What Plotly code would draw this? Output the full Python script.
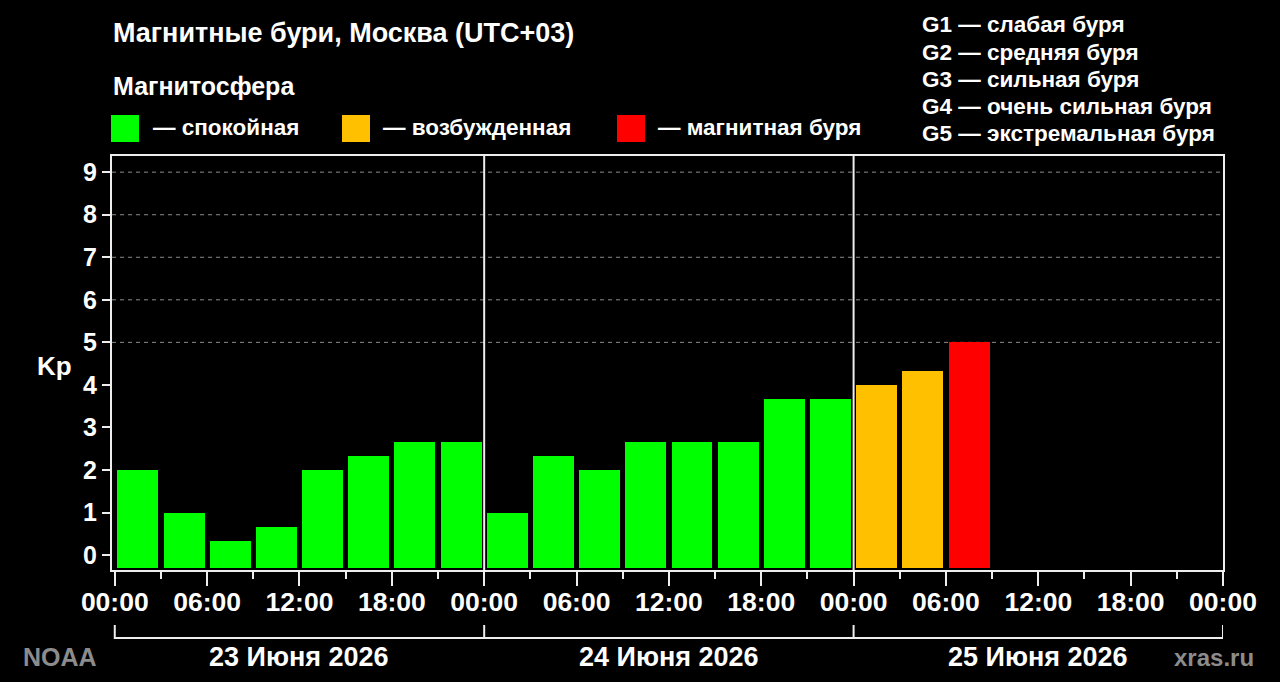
import plotly.graph_objects as go
import pandas as pd

# Kp index, 3-hour bins starting 23 June 2026 00:00 (UTC+03)
kp_values = [2, 1, 0.33, 0.67, 2, 2.33, 2.67, 2.67,
             1, 2.33, 2, 2.67, 2.67, 2.67, 3.67, 3.67,
             4, 4.33, 5]
day_labels = ["23 Июня 2026", "24 Июня 2026", "25 Июня 2026"]
day_starts = ["2026-06-23", "2026-06-24", "2026-06-25", "2026-06-26"]
g_levels = [5, 6, 7, 8, 9]
g_labels = ["G1", "G2", "G3", "G4", "G5"]
legend_names = ["— спокойная", "— возбужденная", "— магнитная буря"]
legend_colors = ["#00ff00", "#ffc000", "#ff0000"]
g_descriptions = ["G1 — слабая буря", "G2 — средняя буря", "G3 — сильная буря",
                  "G4 — очень сильная буря", "G5 — экстремальная буря"]

FONT = "Liberation Sans, Arial, sans-serif"
W, H = 1280, 682
L, R, T, B = 112, 57, 156, 112
PW, PH = W - L - R, H - T - B


def px(x):
    # page pixel -> paper x
    return (x - L) / PW


def py(y):
    # page pixel -> paper y
    return (H - B - y) / PH


yrange = [-0.35, 9.38]
bar_base = -0.31  # bars start just above the bottom axis line

times = pd.date_range("2026-06-23 01:30", periods=len(kp_values), freq="3h")
colors = [legend_colors[0] if v < 4 else legend_colors[1] if v < 5 else legend_colors[2]
          for v in kp_values]

fig = go.Figure()
fig.add_trace(go.Bar(
    x=times, y=[v - bar_base for v in kp_values], base=bar_base,
    customdata=kp_values, hovertemplate="Kp %{customdata}<extra></extra>",
    width=2.66 * 3600 * 1000,
    marker=dict(color=colors, line=dict(width=0)),
    showlegend=False,
))

shapes = []
# dashed grid for storm levels only
for lvl in g_levels:
    shapes.append(dict(type="line", xref="paper", yref="y", x0=0, x1=1, y0=lvl, y1=lvl,
                       line=dict(color="#8c8c8c", width=1, dash="4px,4px"), layer="below"))
# day separators inside the plot
for d in day_starts[1:-1]:
    shapes.append(dict(type="line", xref="x", yref="paper", x0=d, x1=d, y0=0, y1=1,
                       line=dict(color="#eeeeee", width=2)))
# day brackets under the axis
for i in range(len(day_labels)):
    shapes.append(dict(type="line", xref="x", yref="paper", x0=day_starts[i], x1=day_starts[i + 1],
                       y0=py(638), y1=py(638), line=dict(color="#eeeeee", width=2)))
for d in day_starts:
    shapes.append(dict(type="line", xref="x", yref="paper", x0=d, x1=d,
                       y0=py(625), y1=py(639), line=dict(color="#eeeeee", width=2)))
# colour legend squares
for x0, c in zip([111, 342, 617], legend_colors):
    shapes.append(dict(type="rect", xref="paper", yref="paper", x0=px(x0), x1=px(x0 + 28),
                       y0=py(115), y1=py(142), line=dict(width=0), fillcolor=c))

annotations = []
annotations.append(dict(text="Магнитные бури, Москва (UTC+03)", x=px(111), y=py(33),
                        xanchor="left", yanchor="middle", font=dict(size=27)))
annotations.append(dict(text="Магнитосфера", x=px(111), y=py(86),
                        xanchor="left", yanchor="middle", font=dict(size=25)))
for name, x0 in zip(legend_names, [151, 381, 656]):
    annotations.append(dict(text=name, x=px(x0), y=py(128), xanchor="left", yanchor="middle",
                            font=dict(size=22.5)))
for i, txt in enumerate(g_descriptions):
    annotations.append(dict(text=txt, x=px(920), y=py(25 + i * 27.2), xanchor="left",
                            yanchor="middle", font=dict(size=22.5)))
annotations.append(dict(text="Kp", x=px(54), y=py(366), xanchor="center", yanchor="middle",
                        font=dict(size=26)))
for i, lab in enumerate(day_labels):
    mid = pd.Timestamp(day_starts[i]) + pd.Timedelta(hours=12)
    annotations.append(dict(text=lab, x=mid, xref="x", y=py(657), xanchor="center",
                            yanchor="middle", font=dict(size=27)))
annotations.append(dict(text="NOAA", x=px(21), y=py(657), xanchor="left", yanchor="middle",
                        font=dict(size=25, color="#8c8c8c")))
annotations.append(dict(text="xras.ru", x=px(1256), y=py(657), xanchor="right", yanchor="middle",
                        font=dict(size=24, color="#8c8c8c")))
for a in annotations:
    a.setdefault("xref", "paper")
    a["yref"] = "paper"
    a["showarrow"] = False

fig.update_layout(
    width=W, height=H,
    margin=dict(l=L, r=R, t=T, b=B),
    paper_bgcolor="black", plot_bgcolor="black",
    font=dict(family=FONT, color="white", weight="bold"),
    xaxis=dict(
        type="date",
        range=["2026-06-22 23:49:12", "2026-06-26 00:00"],
        tickformat="%H:%M", dtick=6 * 3600 * 1000, tick0="2026-06-23",
        ticks="outside", ticklen=14, tickwidth=2, tickcolor="#eeeeee",
        minor=dict(dtick=3 * 3600 * 1000, tick0="2026-06-23", ticks="outside",
                   ticklen=7, tickwidth=2, tickcolor="#eeeeee"),
        tickfont=dict(size=26.5, color="white", weight="bold"),
        ticklabelstandoff=-7,
        showgrid=False, zeroline=False,
        showline=True, linecolor="#eeeeee", linewidth=2, mirror=True,
    ),
    yaxis=dict(
        range=yrange, tickvals=list(range(10)),
        ticks="outside", ticklen=8, tickwidth=2, tickcolor="#eeeeee",
        tickfont=dict(size=25, color="white", weight="bold"),
        showgrid=False, zeroline=False,
        showline=True, linecolor="#eeeeee", linewidth=2, mirror=True,
    ),
    yaxis2=dict(
        overlaying="y", side="right", range=yrange,
        tickvals=list(range(10)), ticktext=[""] * 5 + g_labels,
        ticks="outside", ticklen=8, tickwidth=2, tickcolor="#eeeeee",
        tickfont=dict(size=27, color="white", weight="bold"),
        showgrid=False, zeroline=False,
        showline=True, linecolor="#eeeeee", linewidth=2,
    ),
    shapes=shapes,
    annotations=annotations,
    bargap=0,
)

fig.write_html("out.html", config={"displayModeBar": False},
               post_script="document.body.style.margin='0';")
